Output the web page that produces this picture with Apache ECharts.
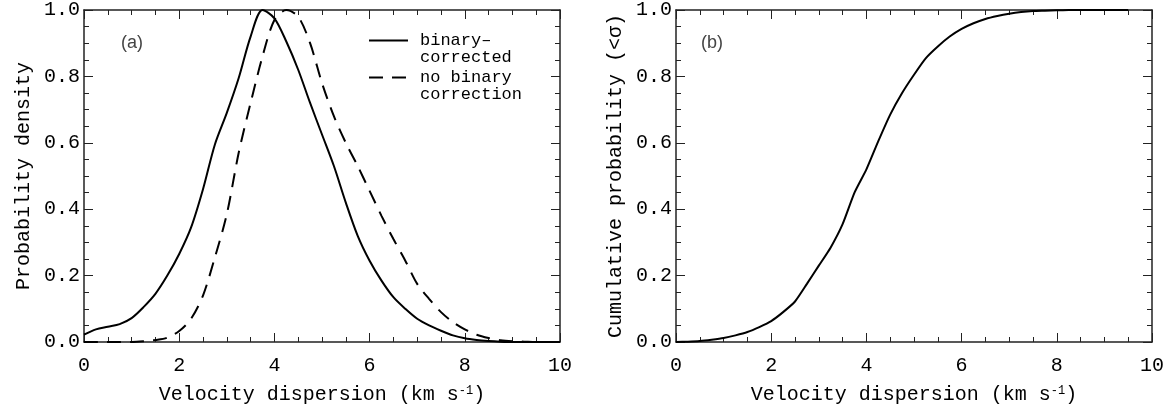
<!DOCTYPE html>
<html>
<head>
<meta charset="utf-8">
<script src="https://cdn.jsdelivr.net/npm/echarts@6/dist/echarts.min.js"></script>
<style>
html,body{margin:0;padding:0;background:#fff;}
#chart{width:1168px;height:411px;}
</style>
</head>
<body>
<div id="chart"></div>
<script>
// ---- Data ----
const velocityA = [0,0.25,0.5,0.75,1,1.25,1.5,1.75,2,2.25,2.5,2.75,3,3.25,3.5,3.75,4,4.25,4.5,4.75,5,5.25,5.5,5.75,6,6.25,6.5,6.75,7,7.25,7.5,7.75,8,8.25,8.5,8.75,9,9.25,9.5,9.75,10];
const densityCorrected = [0.022,0.038,0.046,0.054,0.072,0.105,0.145,0.2,0.265,0.345,0.46,0.595,0.69,0.795,0.92,1.0,0.975,0.905,0.82,0.72,0.625,0.53,0.42,0.32,0.245,0.185,0.135,0.1,0.07,0.05,0.034,0.02,0.011,0.006,0.003,0.001,0,0,0,0,0];
const densityUncorrected = [0,0,0,0,0,0.002,0.006,0.013,0.033,0.07,0.14,0.255,0.385,0.57,0.72,0.86,0.97,1.0,0.98,0.9,0.78,0.68,0.6,0.53,0.455,0.38,0.31,0.245,0.175,0.13,0.09,0.06,0.038,0.022,0.012,0.005,0.002,0.001,0,0,0];
const velocityB = [0,0.25,0.5,0.75,1,1.25,1.5,1.75,2,2.25,2.5,2.75,3,3.25,3.5,3.75,4,4.25,4.5,4.75,5,5.25,5.5,5.75,6,6.25,6.5,6.75,7,7.25,7.5,7.75,8,8.25,8.5,8.75,9,9.25,9.5];
const cumulative = [0,0.001,0.003,0.007,0.012,0.02,0.03,0.045,0.063,0.09,0.122,0.175,0.23,0.285,0.355,0.45,0.52,0.605,0.685,0.75,0.805,0.855,0.89,0.92,0.943,0.96,0.973,0.982,0.989,0.994,0.997,0.998,0.999,1.0,1.0,1.0,1.0,1.0,1.0];
const xTicks = [0,2,4,6,8,10];
const yTicks = [0.0,0.2,0.4,0.6,0.8,1.0];
const seriesNames = ['\nbinary–\ncorrected', '\nno binary\ncorrection'];
const xTitle = 'Velocity dispersion (km s{sup|-1})';
const yTitleA = 'Probability density';
const yTitleB = 'Cumulative probability (<σ)';
const panelLabels = ['(a)', '(b)'];

const pair = (xs, ys) => xs.map((x, i) => [x, ys[i]]);

const FONT = 'Liberation Mono';
const AX = '#222';

function xAxisPair(gridIndex) {
  const base = {
    type: 'value', gridIndex: gridIndex, min: 0, max: 10, interval: 2,
    axisLine: { show: true, onZero: false, lineStyle: { color: AX, width: 1.5 } },
    axisTick: { show: true, inside: true, length: 9, lineStyle: { color: AX, width: 1 } },
    minorTick: { show: true, splitNumber: 4, length: 5, lineStyle: { color: AX, width: 1 } },
    splitLine: { show: false }, minorSplitLine: { show: false }
  };
  return [
    Object.assign({}, base, {
      position: 'bottom',
      axisLabel: { show: true, color: '#000', fontFamily: FONT, fontSize: 20, margin: 14,
        formatter: v => (xTicks.indexOf(v) >= 0 ? String(v) : '') },
      name: xTitle, nameLocation: 'middle', nameGap: 43,
      nameTextStyle: { color: '#000', fontFamily: FONT, fontSize: 20,
        rich: { sup: { fontFamily: FONT, fontSize: 12, color: '#000', verticalAlign: 'top', padding: [0, 0, 8, 0] } } }
    }),
    Object.assign({}, base, { position: 'top', axisLabel: { show: false } })
  ];
}

function yAxisPair(gridIndex, title) {
  const base = {
    type: 'value', gridIndex: gridIndex, min: 0, max: 1, interval: 0.2,
    axisLine: { show: true, onZero: false, lineStyle: { color: AX, width: 1.5 } },
    axisTick: { show: true, inside: true, length: 9, lineStyle: { color: AX, width: 1 } },
    minorTick: { show: true, splitNumber: 4, length: 5, lineStyle: { color: AX, width: 1 } },
    splitLine: { show: false }, minorSplitLine: { show: false }
  };
  return [
    Object.assign({}, base, {
      position: 'left',
      axisLabel: { show: true, color: '#000', fontFamily: FONT, fontSize: 20, margin: 4,
        formatter: v => v.toFixed(1) },
      name: title, nameLocation: 'middle', nameGap: 50, nameRotate: 90,
      nameTextStyle: { color: '#000', fontFamily: FONT, fontSize: 20 }
    }),
    Object.assign({}, base, { position: 'right', axisLabel: { show: false } })
  ];
}

const xa = xAxisPair(0), xb = xAxisPair(1);
const ya = yAxisPair(0, yTitleA), yb = yAxisPair(1, yTitleB);

const option = {
  animation: false,
  backgroundColor: '#fff',
  grid: [
    { left: 84, top: 8, width: 476, height: 334 },
    { left: 676, top: 8, width: 476, height: 334 }
  ],
  xAxis: [xa[0], xa[1], xb[0], xb[1]],
  yAxis: [ya[0], ya[1], yb[0], yb[1]],
  legend: {
    orient: 'vertical', left: 368, top: 15, padding: 0,
    itemWidth: 39, itemHeight: 14, itemGap: -14,
    data: [seriesNames[0], seriesNames[1]],
    itemStyle: { color: 'rgba(0,0,0,0)', borderColor: 'rgba(0,0,0,0)', borderWidth: 0, opacity: 0 },
    textStyle: { fontFamily: FONT, fontSize: 17, lineHeight: 17, color: '#000', padding: [0, 0, 0, 7] }
  },
  graphic: [
    { type: 'text', left: 121, top: 34, style: { text: panelLabels[0], fontSize: 18, fontFamily: 'Liberation Sans', fill: '#444' } },
    { type: 'text', left: 701, top: 34, style: { text: panelLabels[1], fontSize: 18, fontFamily: 'Liberation Sans', fill: '#444' } }
  ],
  series: [
    { name: seriesNames[0], type: 'line', xAxisIndex: 0, yAxisIndex: 0, data: pair(velocityA, densityCorrected),
      symbol: 'none', smooth: 0.3, lineStyle: { color: '#000', width: 2, type: 'solid' }, itemStyle: { color: '#000' } },
    { name: seriesNames[1], type: 'line', xAxisIndex: 0, yAxisIndex: 0, data: pair(velocityA, densityUncorrected),
      symbol: 'none', smooth: 0.3, lineStyle: { color: '#000', width: 2, type: [14, 9] }, itemStyle: { color: '#000' } },
    { name: 'cumulative', type: 'line', xAxisIndex: 2, yAxisIndex: 2, data: pair(velocityB, cumulative),
      symbol: 'none', smooth: 0.2, lineStyle: { color: '#000', width: 2 }, itemStyle: { color: '#000' } }
  ]
};

const chart = echarts.init(document.getElementById('chart'), null, { renderer: 'canvas' });
chart.setOption(option);
</script>
</body>
</html>
